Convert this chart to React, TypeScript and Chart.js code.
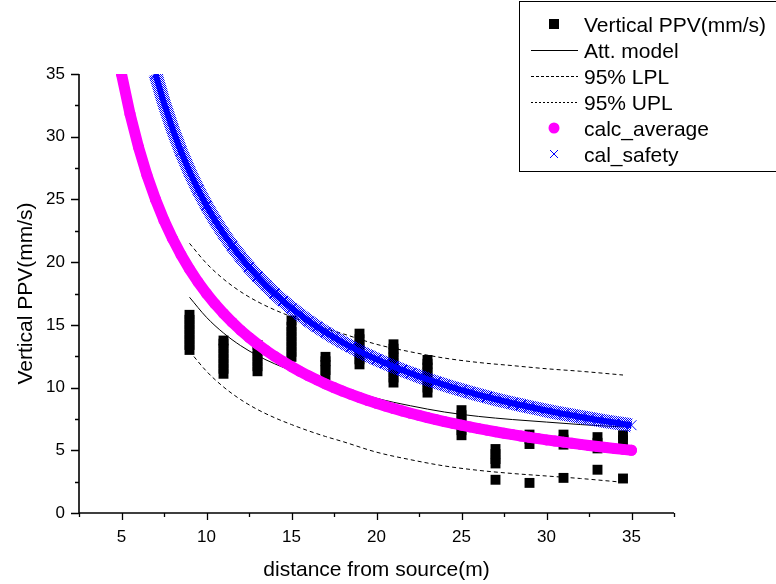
import React, { useEffect, useRef } from 'react';
import { Chart, registerables } from 'chart.js';

Chart.register(...registerables);

const FONT = '"Liberation Sans", Arial, Helvetica, sans-serif';

const seriesNames = ['Vertical PPV(mm/s)', 'Att. model', '95% LPL', '95% UPL', 'calc_average', 'cal_safety'];
const xAxisTitle = 'distance from source(m)';
const yAxisTitle = 'Vertical PPV(mm/s)';

// Measured PPV (black squares), grouped by distance
const ppvDistances = [9, 11, 13, 15, 17, 19, 21, 23, 25, 27, 29, 31, 33, 34.5];
const ppvValues = [
  [13.0, 13.4, 13.8, 14.2, 14.6, 15.0, 15.4, 15.8],
  [11.1, 11.5, 11.9, 12.3, 12.7, 13.1, 13.5, 13.75],
  [11.3, 11.7, 12.1, 12.5, 12.9, 13.4],
  [12.45, 12.85, 13.25, 13.65, 14.05, 14.45, 14.85, 15.35],
  [11.0, 11.4, 11.8, 12.1, 12.45],
  [11.85, 12.25, 12.65, 13.05, 13.45, 13.85, 14.3],
  [10.4, 10.8, 11.2, 11.6, 12.0, 12.4, 12.8, 13.1, 13.45],
  [9.6, 10.0, 10.4, 10.8, 11.2, 11.6, 11.9, 12.2],
  [6.2, 6.6, 7.0, 7.4, 7.8, 8.2],
  [2.65, 3.95, 4.3, 4.7, 5.1],
  [2.4, 5.5, 5.9, 6.25],
  [2.8, 5.45, 5.85, 6.25],
  [3.45, 5.15, 5.6, 6.05],
  [2.75, 5.8, 6.2],
];

// Attenuation model and 95% prediction limits
const modelDistances = [9, 10, 11, 12, 13, 14, 15, 16, 17, 18, 20, 22, 24, 26, 28, 30, 32, 34.5];
const modelValues = [17.2, 15.6, 14.35, 13.35, 12.55, 11.9, 11.35, 10.85, 10.4, 10.0, 9.15, 8.55, 8.05, 7.7, 7.45, 7.25, 7.05, 6.86];
const uplValues = [21.5, 19.9, 18.65, 17.65, 16.85, 16.2, 15.65, 15.15, 14.7, 14.3, 13.45, 12.85, 12.35, 12.0, 11.75, 11.5, 11.3, 11.0];
const lplValues = [12.9, 11.3, 10.05, 9.05, 8.25, 7.6, 7.05, 6.55, 6.1, 5.7, 4.85, 4.25, 3.75, 3.4, 3.15, 2.95, 2.75, 2.45];

// calc_average (magenta)
const averageDistances = [5, 5.5, 6, 6.5, 7, 7.5, 8, 8.5, 9, 9.5, 10, 10.5, 11, 11.5, 12, 12.5, 13, 13.5, 14, 14.5, 15, 15.5, 16, 16.5, 17, 17.5, 18, 18.5, 19, 19.5, 20, 20.5, 21, 21.5, 22, 22.5, 23, 23.5, 24, 24.5, 25, 25.5, 26, 26.5, 27, 27.5, 28, 28.5, 29, 29.5, 30, 30.5, 31, 31.5, 32, 32.5, 33, 33.5, 34, 34.5, 35];
const averageValues = [35.0, 31.82, 29.17, 26.92, 25.0, 23.33, 21.88, 20.59, 19.44, 18.42, 17.5, 16.67, 15.91, 15.22, 14.58, 14.0, 13.46, 12.96, 12.5, 12.07, 11.67, 11.29, 10.94, 10.61, 10.29, 10.0, 9.72, 9.46, 9.21, 8.97, 8.75, 8.54, 8.33, 8.14, 7.95, 7.78, 7.61, 7.45, 7.29, 7.14, 7.0, 6.86, 6.73, 6.6, 6.48, 6.36, 6.25, 6.14, 6.03, 5.93, 5.83, 5.74, 5.65, 5.56, 5.47, 5.38, 5.3, 5.22, 5.15, 5.07, 5.0];

// cal_safety (blue crosses)
const safetyDistances = [7, 7.5, 8, 8.5, 9, 9.5, 10, 10.5, 11, 11.5, 12, 12.5, 13, 13.5, 14, 14.5, 15, 15.5, 16, 16.5, 17, 17.5, 18, 18.5, 19, 19.5, 20, 20.5, 21, 21.5, 22, 22.5, 23, 23.5, 24, 24.5, 25, 25.5, 26, 26.5, 27, 27.5, 28, 28.5, 29, 29.5, 30, 30.5, 31, 31.5, 32, 32.5, 33, 33.5, 34, 34.5, 35];
const safetyValues = [35.0, 32.67, 30.63, 28.82, 27.22, 25.79, 24.5, 23.33, 22.27, 21.3, 20.42, 19.6, 18.85, 18.15, 17.5, 16.9, 16.33, 15.81, 15.31, 14.85, 14.41, 14.0, 13.61, 13.24, 12.89, 12.56, 12.25, 11.95, 11.67, 11.4, 11.14, 10.89, 10.65, 10.43, 10.21, 10.0, 9.8, 9.61, 9.42, 9.25, 9.07, 8.91, 8.75, 8.6, 8.45, 8.31, 8.17, 8.03, 7.9, 7.78, 7.66, 7.54, 7.42, 7.31, 7.21, 7.1, 7.0];

const xMin = 2.5, xMax = 37.5, xStep = 2.5;
const yMin = 0, yMax = 35, yStep = 2.5;
const labelEvery = 5;

const isMajor = (v: number) => Math.abs(v / labelEvery - Math.round(v / labelEvery)) < 1e-6;
const pts = (xs: number[], ys: number[]) => xs.map((x, i) => ({ x, y: ys[i] }));

const decorPlugin = {
  id: 'decor',
  afterDraw(chart: any) {
    const ctx: CanvasRenderingContext2D = chart.ctx;
    const { left, right, top, bottom } = chart.chartArea;
    const xs = chart.scales.x;
    const ys = chart.scales.y;
    ctx.save();
    ctx.strokeStyle = '#000';
    ctx.lineWidth = 1.6;
    ctx.beginPath();
    ctx.moveTo(left, top);
    ctx.lineTo(left, bottom);
    ctx.lineTo(right, bottom);
    ctx.stroke();
    ctx.lineWidth = 1.3;
    ctx.beginPath();
    xs.ticks.forEach((t: any) => {
      const p = Math.round(xs.getPixelForValue(t.value)) + 0.5;
      const len = isMajor(t.value) ? 7 : 4;
      ctx.moveTo(p, bottom);
      ctx.lineTo(p, bottom + len);
    });
    ys.ticks.forEach((t: any) => {
      const p = Math.round(ys.getPixelForValue(t.value)) + 0.5;
      const len = isMajor(t.value) ? 8 : 4;
      ctx.moveTo(left, p);
      ctx.lineTo(left - len, p);
    });
    ctx.stroke();

    // axis titles
    ctx.fillStyle = '#000';
    ctx.font = `21px ${FONT}`;
    ctx.textAlign = 'center';
    ctx.textBaseline = 'alphabetic';
    ctx.fillText(xAxisTitle, (left + right) / 2, 576);
    ctx.save();
    ctx.translate(32, (top + bottom) / 2);
    ctx.rotate(-Math.PI / 2);
    ctx.fillText(yAxisTitle, 0, 0);
    ctx.restore();

    // legend
    ctx.lineWidth = 1;
    ctx.strokeStyle = '#000';
    ctx.strokeRect(519.5, 1.5, 300, 170);
    ctx.textAlign = 'left';
    const symX = 554;
    seriesNames.forEach((name, i) => {
      const base = 31.5 + i * 26;
      const cy = base - 7.5;
      ctx.save();
      if (i === 0) {
        ctx.fillStyle = '#000';
        ctx.fillRect(symX - 5, cy - 5, 10, 10);
      } else if (i === 1 || i === 2 || i === 3) {
        ctx.strokeStyle = '#000';
        ctx.lineWidth = 1;
        if (i === 2) ctx.setLineDash([3, 2]);
        if (i === 3) ctx.setLineDash([2, 2]);
        ctx.beginPath();
        ctx.moveTo(531, Math.round(cy) + 0.5);
        ctx.lineTo(578, Math.round(cy) + 0.5);
        ctx.stroke();
      } else if (i === 4) {
        ctx.fillStyle = '#ff00ff';
        ctx.beginPath();
        ctx.arc(symX, cy, 5.5, 0, Math.PI * 2);
        ctx.fill();
      } else {
        ctx.strokeStyle = '#0000ff';
        ctx.lineWidth = 1;
        ctx.beginPath();
        ctx.moveTo(symX - 4, cy - 4);
        ctx.lineTo(symX + 4, cy + 4);
        ctx.moveTo(symX + 4, cy - 4);
        ctx.lineTo(symX - 4, cy + 4);
        ctx.stroke();
      }
      ctx.restore();
      ctx.fillStyle = '#000';
      ctx.fillText(name, 584, base);
    });
    ctx.restore();
  },
};

export default function App() {
  const ref = useRef<HTMLCanvasElement | null>(null);
  useEffect(() => {
    document.body.style.margin = '0';
    const canvas = ref.current;
    if (!canvas) return;
    const pc = document.createElement('canvas');
    pc.width = 2;
    pc.height = 2;
    const g = pc.getContext('2d')!;
    g.fillStyle = '#0000ff';
    g.fillRect(0, 0, 1, 1);
    g.fillRect(1, 1, 1, 1);
    const pattern = canvas.getContext('2d')!.createPattern(pc, 'repeat');

    const ppvPoints = ppvDistances.flatMap((x, i) => ppvValues[i].map((y) => ({ x, y })));
    const avgPts = pts(averageDistances, averageValues);
    const safePts = pts(safetyDistances, safetyValues);

    const chart = new Chart(canvas, {
      type: 'scatter',
      data: {
        datasets: [
          {
            label: seriesNames[5],
            data: safePts,
            showLine: true,
            borderColor: '#0000ff',
            borderWidth: 6,
            pointStyle: 'crossRot',
            pointRadius: 7,
            pointBorderColor: '#0000ff',
            pointBorderWidth: 1,
            pointBackgroundColor: 'rgba(0,0,0,0)',
            order: 0,
          } as any,
          {
            label: seriesNames[5] + ' band',
            data: safePts,
            showLine: true,
            borderColor: pattern as any,
            borderWidth: 14,
            pointRadius: 0,
            order: 1,
          } as any,
          {
            label: seriesNames[4],
            data: avgPts,
            showLine: true,
            borderColor: '#ff00ff',
            borderWidth: 11,
            borderCapStyle: 'round',
            borderJoinStyle: 'round',
            pointRadius: 5.5,
            pointBackgroundColor: '#ff00ff',
            pointBorderWidth: 0,
            order: 2,
          } as any,
          {
            label: seriesNames[3],
            data: pts(modelDistances, uplValues),
            showLine: true,
            borderColor: '#000',
            borderWidth: 1,
            borderDash: [4, 3],
            cubicInterpolationMode: 'monotone',
            pointRadius: 0,
            order: 3,
          } as any,
          {
            label: seriesNames[2],
            data: pts(modelDistances, lplValues),
            showLine: true,
            borderColor: '#000',
            borderWidth: 1,
            borderDash: [4, 3],
            cubicInterpolationMode: 'monotone',
            pointRadius: 0,
            order: 4,
          } as any,
          {
            label: seriesNames[1],
            data: pts(modelDistances, modelValues),
            showLine: true,
            borderColor: '#000',
            borderWidth: 1,
            cubicInterpolationMode: 'monotone',
            pointRadius: 0,
            order: 5,
          } as any,
          {
            label: seriesNames[0],
            data: ppvPoints,
            showLine: false,
            pointStyle: 'rect',
            pointRadius: 7,
            pointBackgroundColor: '#000',
            pointBorderWidth: 0,
            order: 6,
          } as any,
        ],
      },
      options: {
        responsive: false,
        animation: false,
        devicePixelRatio: 1,
        events: [],
        layout: { padding: { left: 0, top: 74, right: 102, bottom: 0 } },
        plugins: { legend: { display: false }, tooltip: { enabled: false } },
        scales: {
          x: {
            type: 'linear',
            min: xMin,
            max: xMax,
            grid: { display: false, drawTicks: false },
            border: { display: false },
            ticks: {
              stepSize: xStep,
              autoSkip: false,
              maxRotation: 0,
              padding: 14,
              color: '#000',
              font: { family: FONT, size: 17 },
              callback: (v: any) => (isMajor(Number(v)) ? String(v) : ''),
            },
            afterFit: (s: any) => {
              s.height = 71;
            },
          },
          y: {
            type: 'linear',
            min: yMin,
            max: yMax,
            grid: { display: false, drawTicks: false },
            border: { display: false },
            ticks: {
              stepSize: yStep,
              autoSkip: false,
              padding: 14,
              color: '#000',
              font: { family: FONT, size: 17 },
              callback: (v: any) => (isMajor(Number(v)) ? String(v) : ''),
            },
            afterFit: (s: any) => {
              s.width = 79;
            },
          },
        },
      },
      plugins: [decorPlugin],
    } as any);
    return () => chart.destroy();
  }, []);

  return (
    <div style={{ position: 'fixed', left: 0, top: 0, width: 776, height: 584, background: '#fff' }}>
      <canvas ref={ref} width={776} height={584} style={{ display: 'block' }} />
    </div>
  );
}
